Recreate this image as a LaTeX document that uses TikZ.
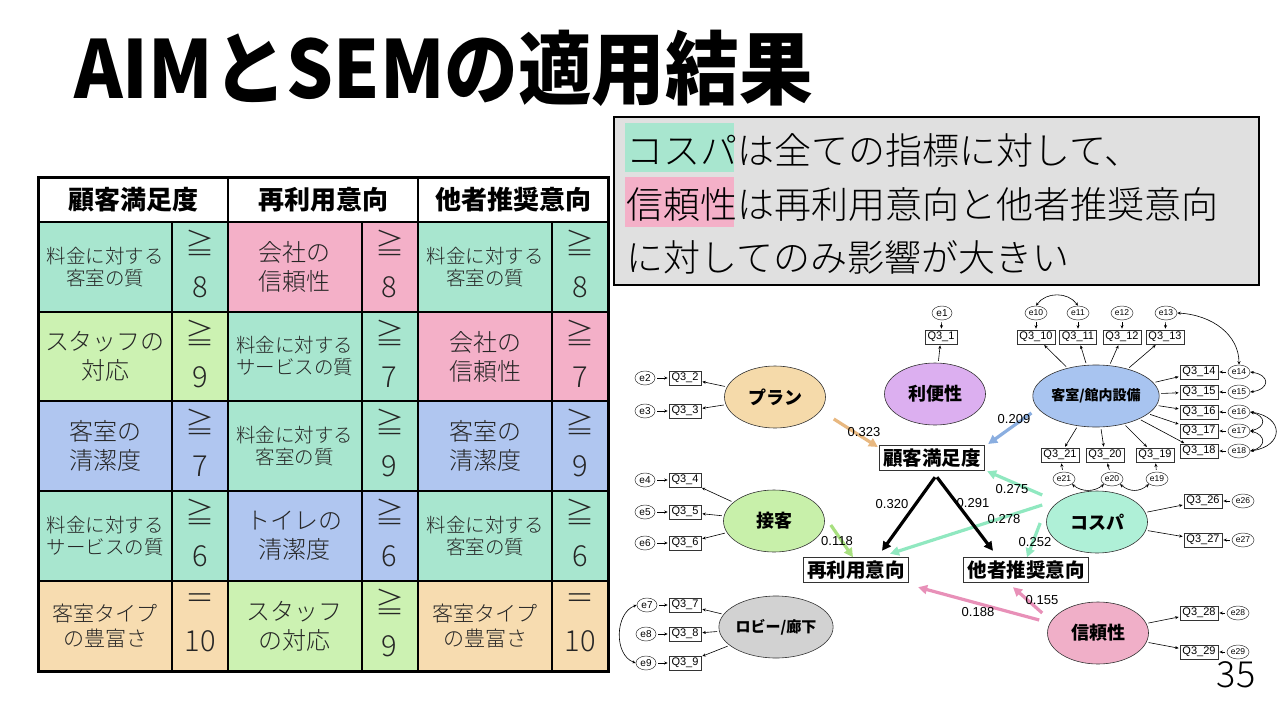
\documentclass[tikz,border=0pt]{standalone}
\usepackage{fontspec}
\setmainfont{Noto Sans CJK JP}
\newfontfamily\lightf{Noto Sans CJK JP Light}
\newfontfamily\latf{Liberation Sans}
\usetikzlibrary{arrows.meta,shapes.geometric,calc}
\definecolor{cteal}{HTML}{A8E6CF}
\definecolor{cpink}{HTML}{F4B0C8}
\definecolor{clgreen}{HTML}{CCF2B2}
\definecolor{cblue}{HTML}{B0C6F0}
\definecolor{corange}{HTML}{F7DCB0}
\definecolor{tgray}{HTML}{262626}
\definecolor{boxgray}{HTML}{E0E0E0}
\definecolor{fpl}{HTML}{F5DAAA}
\definecolor{fbn}{HTML}{DCAFF0}
\definecolor{fkk}{HTML}{A8C4F0}
\definecolor{fsk}{HTML}{C8F0AA}
\definecolor{flb}{HTML}{D2D2D2}
\definecolor{fcp}{HTML}{AFF0D7}
\definecolor{fsr}{HTML}{F0AFC8}
\definecolor{atan}{HTML}{E8B880}
\definecolor{ablue}{HTML}{8AAEE0}
\definecolor{amint}{HTML}{90E8C0}
\definecolor{agreen}{HTML}{A8E080}
\definecolor{apink}{HTML}{E890B8}
\newcommand\fsz[2]{\fontsize{#1}{#2}\selectfont}
\begin{document}
\begin{tikzpicture}[x=1pt,y=-1pt,
  tc/.style={draw=black, line width=2pt, inner sep=0pt, align=center, text=tgray},
  tsmall/.style={tc, minimum width=134pt, minimum height=90pt, font=\lightf\fsz{19.5}{22}},
  tlarge/.style={tc, minimum width=134pt, minimum height=90pt, font=\lightf\fsz{24}{29}},
  tmid/.style={tc, minimum width=134pt, minimum height=90pt, font=\lightf\fsz{21}{25}},
  tnum/.style={tc, minimum width=56pt, minimum height=90pt},
  ntxt/.style={inner sep=0pt, align=center, text=tgray, font=\lightf\fsz{29}{43}},
  thead/.style={draw=black, line width=2pt, inner sep=0pt, minimum height=45pt, font=\bfseries\fsz{26}{28}, fill=white},
  lat/.style={ellipse, draw=black!80, line width=0.6pt, minimum width=101pt, minimum height=62pt, inner sep=0pt, font=\bfseries\fsz{18}{20}},
  obs/.style={draw=black!80, line width=0.8pt, fill=white, inner xsep=4pt, inner ysep=3pt, font=\bfseries\fsz{19.5}{21}},
  ind/.style={draw=black!80, line width=0.7pt, fill=white, font=\latf\fsz{11}{12}, inner xsep=2.5pt, inner ysep=1.5pt, minimum height=14pt},
  err/.style={ellipse, draw=black!80, line width=0.5pt, fill=white, font=\latf\fsz{10}{10}, inner sep=0pt, minimum width=20pt, minimum height=14pt},
  errs/.style={err, font=\latf\fsz{8.5}{9}, minimum width=22pt},
  sarr/.style={-{Stealth[length=3.5pt,width=3pt]}, line width=0.6pt, shorten <=2pt, shorten >=1pt},
  cov/.style={{Stealth[length=3.5pt,width=3pt]}-{Stealth[length=3.5pt,width=3pt]}, line width=0.6pt},
  parr/.style={line width=3.2pt, -{Triangle[length=9pt,width=9pt]}},
  plbl/.style={font=\latf\fsz{13}{14}, inner sep=0pt}
]
\useasboundingbox (0,0) rectangle (1280,720);
\fill[white] (0,0) rectangle (1280,720);

% title
\node[anchor=base west, inner sep=0pt, xscale=0.92, font=\bfseries\fsz{80}{86}] (title) at (74,98) {AIMとSEMの適用結果};

% text box
\node[draw=black, line width=2pt, fill=boxgray, minimum width=645pt, minimum height=168pt, inner sep=0pt] (tbox) at (936.5,201) {};
\node[fill=cteal, minimum width=109pt, minimum height=49pt, inner sep=0pt] (hl1) at (679.5,147.5) {};
\node[fill=cpink, minimum width=109pt, minimum height=50pt, inner sep=0pt] (hl2) at (679.5,202) {};
\node[anchor=base west, inner sep=0pt, font=\lightf\fsz{37}{40}] (ln1) at (626,164) {コスパは全ての指標に対して、};
\node[anchor=base west, inner sep=0pt, font=\lightf\fsz{37}{40}] (ln2) at (626,218) {信頼性は再利用意向と他者推奨意向};
\node[anchor=base west, inner sep=0pt, font=\lightf\fsz{37}{40}] (ln3) at (626,271) {に対してのみ影響が大きい};

% table header
\node[thead, minimum width=190pt] (h1) at (133,199.5) {顧客満足度};
\node[thead, minimum width=190pt] (h2) at (323,199.5) {再利用意向};
\node[thead, minimum width=190pt] (h3) at (513,199.5) {他者推奨意向};
% row 1
\node[tsmall, fill=cteal] (a11) at (105,267) {料金に対する\\客室の質};
\node[tnum, fill=cteal] (n11) at (200,267) {};
\node[tlarge, fill=cpink] (a12) at (294.5,267) {会社の\\信頼性};
\node[tnum, fill=cpink] (n12) at (389.5,267) {};
\node[tsmall, fill=cteal] (a13) at (485,267) {料金に対する\\客室の質};
\node[tnum, fill=cteal] (n13) at (580,267) {};
% row 2
\node[tlarge, fill=clgreen] (a21) at (105,356.5) {スタッフの\\対応};
\node[tnum, fill=clgreen] (n21) at (200,356.5) {};
\node[tsmall, fill=cteal] (a22) at (294.5,356.5) {料金に対する\\サービスの質};
\node[tnum, fill=cteal] (n22) at (389.5,356.5) {};
\node[tlarge, fill=cpink] (a23) at (485,356.5) {会社の\\信頼性};
\node[tnum, fill=cpink] (n23) at (580,356.5) {};
% row 3
\node[tlarge, fill=cblue] (a31) at (105,446) {客室の\\清潔度};
\node[tnum, fill=cblue] (n31) at (200,446) {};
\node[tsmall, fill=cteal] (a32) at (294.5,446) {料金に対する\\客室の質};
\node[tnum, fill=cteal] (n32) at (389.5,446) {};
\node[tlarge, fill=cblue] (a33) at (485,446) {客室の\\清潔度};
\node[tnum, fill=cblue] (n33) at (580,446) {};
% row 4
\node[tsmall, fill=cteal] (a41) at (105,536) {料金に対する\\サービスの質};
\node[tnum, fill=cteal] (n41) at (200,536) {};
\node[tlarge, fill=cblue] (a42) at (294.5,536) {トイレの\\清潔度};
\node[tnum, fill=cblue] (n42) at (389.5,536) {};
\node[tsmall, fill=cteal] (a43) at (485,536) {料金に対する\\客室の質};
\node[tnum, fill=cteal] (n43) at (580,536) {};
% row 5
\node[tmid, fill=corange] (a51) at (105,626) {客室タイプ\\の豊富さ};
\node[tnum, fill=corange] (n51) at (200,626) {};
\node[tlarge, fill=clgreen] (a52) at (294.5,626) {スタッフ\\の対応};
\node[tnum, fill=clgreen] (n52) at (389.5,626) {};
\node[tmid, fill=corange] (a53) at (485,626) {客室タイプ\\の豊富さ};
\node[tnum, fill=corange] (n53) at (580,626) {};
% number texts
\foreach \r/\ry/\va/\vb/\vc in {1/264/≧\\8/≧\\8/≧\\8, 2/353.5/≧\\9/≧\\7/≧\\7, 3/443/≧\\7/≧\\9/≧\\9, 4/533/≧\\6/≧\\6/≧\\6, 5/623/＝\\10/≧\\9/＝\\10}{
  \node[ntxt] (v\r a) at (200,\ry) {\va};
  \node[ntxt] (v\r b) at (389.5,\ry) {\vb};
  \node[ntxt] (v\r c) at (580,\ry) {\vc};
}
\draw[line width=3pt] (38,177) rectangle (608,671);

% SEM latent variables
\node[lat, fill=fpl] (pl) at (775,397) {プラン};
\node[lat, fill=fbn] (bn) at (935,394) {利便性};
\node[lat, fill=fkk, font=\bfseries\fsz{14}{16}] (kk) at (1096,396) {客室/館内設備};
\node[lat, fill=fsk] (sk) at (774,521) {接客};
\node[lat, fill=flb, font=\bfseries\fsz{15}{16}] (lb) at (776,627) {ロビー/廊下};
\node[lat, fill=fcp] (cp) at (1097,522) {コスパ};
\node[lat, fill=fsr] (sr) at (1098,633) {信頼性};

\node[obs] (sat) at (932,458) {顧客満足度};
\node[obs] (rei) at (856,570) {再利用意向};
\node[obs] (tas) at (1026,570) {他者推奨意向};

% indicators (left / top, larger error labels)
\foreach \n/\qx/\qy/\ex/\ey in {1/941/337/942/313, 2/685/378/645/378, 3/685/411/645/411, 4/685/480/645/480, 5/685/512/645/512, 6/685/543/645/543, 7/685/605/647/605, 8/685/634/646/634, 9/685/663/646/663}{
  \node[ind] (q\n) at (\qx,\qy) {Q3\_\n};
  \node[err] (e\n) at (\ex,\ey) {e\n};
  \draw[sarr] (e\n) -- (q\n);
}
\foreach \n/\qx/\qy/\ex/\ey in {10/1036/337/1036/313, 11/1078/337/1078/313, 12/1122/337/1122/313, 13/1165/337/1166/313, 14/1199/372/1239/372, 15/1199/392/1239/392, 16/1199/412/1239/412, 17/1199/431/1239/431, 18/1199/451/1239/451, 21/1060/455/1064/479, 20/1105/455/1112/479, 19/1155/455/1157/479, 26/1203/501/1243/501, 27/1203/540/1243/540, 28/1199/613/1238/613, 29/1199/652/1238/652}{
  \node[ind] (q\n) at (\qx,\qy) {Q3\_\n};
  \node[errs] (e\n) at (\ex,\ey) {e\n};
  \draw[sarr] (e\n) -- (q\n);
}
% loadings
\draw[sarr] (bn) -- (q1);
\foreach \n in {2,3} \draw[sarr] (pl) -- (q\n);
\foreach \n in {4,5,6} \draw[sarr] (sk) -- (q\n);
\foreach \n in {7,8,9} \draw[sarr] (lb) -- (q\n);
\foreach \n in {10,11,12,13,14,15,16,17,18,19,20,21} \draw[sarr] (kk) -- (q\n);
\foreach \n in {26,27} \draw[sarr] (cp) -- (q\n);
\foreach \n in {28,29} \draw[sarr] (sr) -- (q\n);

% covariances
\draw[cov] (e10.north) .. controls +(10,-14) and +(-10,-14) .. (e11.north);
\draw[cov] (e13.east) .. controls +(35,2) and +(0,-30) .. (e14.north);
\draw[cov] (e14.east) .. controls +(20,3) and +(20,-3) .. (e15.east);
\draw[cov] (e16.east) .. controls +(16,4) and +(16,-4) .. (e17.east);
\draw[cov] (e17.east) .. controls +(16,4) and +(16,-4) .. (e18.east);
\draw[cov] (e16.east) .. controls +(34,5) and +(34,-5) .. (e18.east);
\draw[cov] (e21.south east) .. controls +(10,8) and +(-10,8) .. (e20.south west);
\draw[cov] (e20.south east) .. controls +(10,8) and +(-10,8) .. (e19.south west);
\draw[cov] (e7.west) .. controls +(-22,8) and +(-22,-8) .. (e9.west);

% structural paths
\draw[parr, atan]   ($(pl.east)+(8,22)$) -- ($(sat.west)+(-1,-11)$);
\draw[parr, ablue]  ($(kk.west)+(-1,17)$) -- ($(sat.east)+(3,-14)$);
\draw[parr, amint]  ($(cp.west)+(-4,-27)$) -- ($(sat.south east)+(2,0.5)$);
\draw[parr, amint]  ($(cp.west)+(-4,-17)$) -- ($(rei.north)+(34,-3.5)$);
\draw[parr, amint]  ($(cp.west)+(-6,1)$) -- ($(tas.north)+(1,0)$);
\draw[parr, agreen] ($(sk.east)+(6,4)$) -- ($(rei.north)+(-3,0)$);
\draw[parr, apink]  ($(sr.west)+(-8,-13)$) -- ($(rei.south east)+(9,4.5)$);
\draw[parr, apink]  ($(sr.west)+(-5,-20)$) -- ($(tas.south)+(-13,4.5)$);
\draw[parr, black]  ($(sat.south)+(3,6.5)$) -- ($(rei.north)+(26,-6.5)$);
\draw[parr, black]  ($(sat.south)+(5,6.5)$) -- ($(tas.north)+(-33,-6.5)$);

\node[plbl] (l1) at (864,432) {0.323};
\node[plbl] (l2) at (1014,419) {0.209};
\node[plbl] (l3) at (1012,489) {0.275};
\node[plbl] (l4) at (1004,519) {0.278};
\node[plbl] (l5) at (1035,542) {0.252};
\node[plbl] (l6) at (892,504) {0.320};
\node[plbl] (l7) at (973,503) {0.291};
\node[plbl] (l8) at (837,541) {0.118};
\node[plbl] (l9) at (978,612) {0.188};
\node[plbl] (l10) at (1042,600) {0.155};

% page number
\node[font=\lightf\fsz{36}{38}, inner sep=0pt] (pg) at (1236,675) {35};
\end{tikzpicture}
\end{document}
